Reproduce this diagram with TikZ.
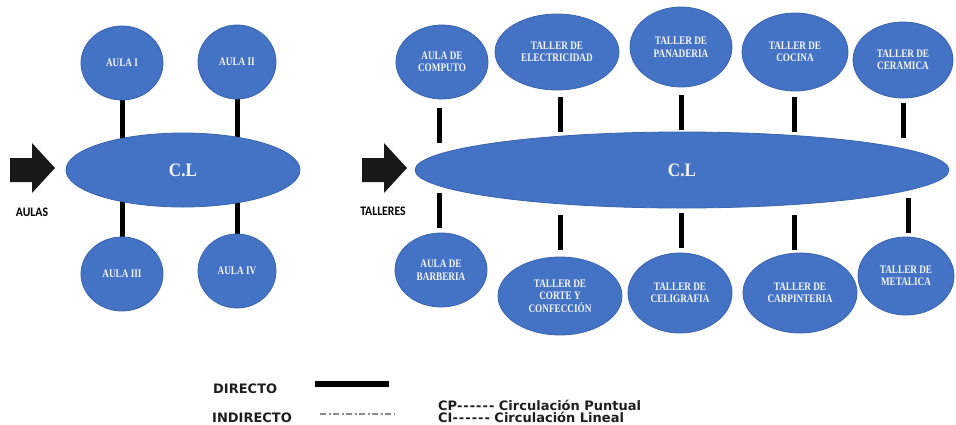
\documentclass[tikz,border=0pt]{standalone}
\usepackage{fontspec}
\usetikzlibrary{shapes.geometric,backgrounds}
\newfontfamily\lblfont[FakeStretch=0.8]{Liberation Serif}
\newfontfamily\clfont[FakeStretch=0.9]{Liberation Serif}
\newfontfamily\arrfont[FakeStretch=0.9]{Carlito}
\newfontfamily\legfont{DejaVu Sans}
\definecolor{roomblue}{HTML}{4472C4}
\definecolor{roomedge}{HTML}{3A64AE}
\definecolor{lbltext}{HTML}{F4F6FB}
\definecolor{legtext}{HTML}{1E1E1E}
\newcommand\hyrun{-\kern1pt-\kern1pt-\kern1pt-\kern1pt-\kern1pt-}
\begin{document}
\begin{tikzpicture}[x=1pt,y=-1pt,
  room/.style={ellipse, fill=roomblue, draw=roomedge, line width=0.8pt, inner sep=0pt,
    text=lbltext, align=center, font=\lblfont\bfseries\fontsize{11.5}{12.5}\selectfont},
  hall/.style={ellipse, fill=roomblue, draw=roomedge, line width=0.8pt, inner sep=0pt,
    text=lbltext, font=\clfont\bfseries\fontsize{19}{21}\selectfont},
  conn/.style={line width=5pt, black},
  blockarrow/.style={fill=black!90},
  arrlbl/.style={inner sep=0pt, text=black, font=\arrfont\bfseries\fontsize{13}{15}\selectfont},
  leg/.style={inner sep=0pt, text=legtext, font=\legfont\bfseries\fontsize{13}{15}\selectfont},
]
\useasboundingbox (0,0) rectangle (956,424);

% ---------- AULAS ----------
\node[room, minimum width=82pt, minimum height=74pt] (a1) at (122,63) {AULA I};
\node[room, minimum width=78pt, minimum height=74pt] (a2) at (237,62) {AULA II};
\node[hall, minimum width=234pt, minimum height=74pt] (cl1) at (183,170) {C.L};
\node[room, minimum width=82pt, minimum height=74pt] (a3) at (122,274) {AULA III};
\node[room, minimum width=78pt, minimum height=74pt] (a4) at (237,271) {AULA IV};

\begin{scope}[on background layer]
  \fill[white] (0,0) rectangle (956,424);
  \draw[conn] (a1) -- (a1 |- cl1);
  \draw[conn] (a2) -- (a2 |- cl1);
  \draw[conn] (a3) -- (a3 |- cl1);
  \draw[conn] (a4) -- (a4 |- cl1);
\end{scope}

\fill[blockarrow] (10,158) -- (32,158) -- (32,143) -- (55,168) -- (32,193) -- (32,182) -- (10,182) -- cycle;
\node[arrlbl] (laulas) at (32,212) {AULAS};

% ---------- TALLERES ----------
\node[room, minimum width=92pt, minimum height=74pt] (c1) at (442,62) {AULA DE\\COMPUTO};
\node[room, minimum width=124pt, minimum height=76pt] (c2) at (557,52) {TALLER DE\\ELECTRICIDAD};
\node[room, minimum width=102pt, minimum height=80pt] (c3) at (681,47) {TALLER DE\\PANADERIA};
\node[room, minimum width=106pt, minimum height=78pt] (c4) at (795,52) {TALLER DE\\COCINA};
\node[room, minimum width=100pt, minimum height=76pt] (c5) at (903,60) {TALLER DE\\CERAMICA};

\node[hall, minimum width=534pt, minimum height=76pt] (cl2) at (682,170) {C.L};

\node[room, minimum width=92pt, minimum height=74pt] (b1) at (441,270) {AULA DE\\BARBERIA};
\node[room, minimum width=124pt, minimum height=78pt] (b2) at (560,296) {TALLER DE\\CORTE Y\\CONFECCIÓN};
\node[room, minimum width=104pt, minimum height=80pt] (b3) at (680,293) {TALLER DE\\CELIGRAFIA};
\node[room, minimum width=114pt, minimum height=80pt] (b4) at (800,293) {TALLER DE\\CARPINTERIA};
\node[room, minimum width=96pt, minimum height=78pt] (b5) at (906,276) {TALLER DE\\METALICA};

\draw[conn] (c1.south) ++(-3,9) -- ++(0,35);
\draw[conn] (c2.south) ++(3,7) -- ++(0,35);
\draw[conn] (c3.south) ++(0,8) -- ++(0,35);
\draw[conn] (c4.south) ++(-1,6) -- ++(0,35);
\draw[conn] (c5.south) ++(0,5) -- ++(0,35);

\draw[conn] (b1.north) ++(-2,-5) -- ++(0,-35);
\draw[conn] (b2.north) ++(0,-7) -- ++(0,-35);
\draw[conn] (b3.north) ++(1,-5) -- ++(0,-35);
\draw[conn] (b4.north) ++(-6,-3) -- ++(0,-35);
\draw[conn] (b5.north) ++(2,-4) -- ++(0,-35);

\fill[blockarrow] (362,158) -- (384,158) -- (384,143) -- (407,168) -- (384,193) -- (384,182) -- (362,182) -- cycle;
\node[arrlbl] (ltalleres) at (383,211) {TALLERES};

% ---------- LEYENDA ----------
\node[leg, anchor=base west] (ldir) at (213,393) {DIRECTO};
\node[leg, anchor=base west] (lind) at (212,422) {INDIRECTO};
\coordinate (d1) at (315,384);
\coordinate (d2) at (389,384);
\draw[line width=6pt, black] (d1) -- (d2);
\coordinate (i1) at (320,414);
\coordinate (i2) at (395,414);
\draw[black!45, line width=2pt, dash pattern=on 6pt off 2.5pt on 2pt off 2.5pt] (i1) -- (i2);
\node[leg, anchor=base west] (lcp) at (438,410) {CP\hyrun{} Circulación Puntual};
\node[leg, anchor=base west] (lci) at (438,422) {CI\hyrun{} Circulación Lineal};
\end{tikzpicture}
\end{document}
